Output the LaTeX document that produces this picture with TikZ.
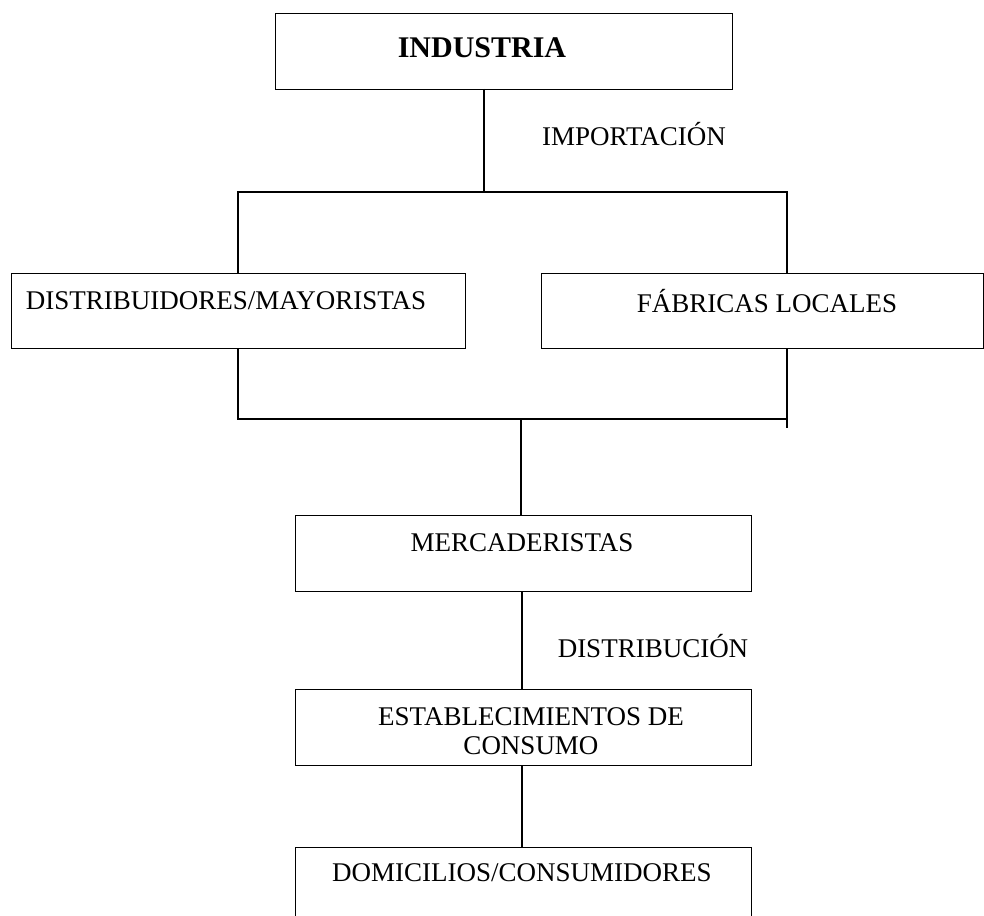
\documentclass[tikz,border=0pt]{standalone}
\usepackage{fontspec}
\setmainfont{Liberation Serif}
\begin{document}
\begin{tikzpicture}[x=1pt,y=-1pt,
  box/.style={draw=black, line width=1.4pt, inner sep=0pt, anchor=north west},
  lbl/.style={font=\fontsize{27}{29}\selectfont, inner sep=0pt, align=center},
  conn/.style={draw=black, line width=1.4pt}]
\useasboundingbox (0,0) rectangle (984,915);
\clip (0,0) rectangle (984,915);
% boxes
\node[box, minimum width=457pt, minimum height=76pt] (ind) at (275,13) {};
\node[box, minimum width=454pt, minimum height=75pt] (dist) at (11,273) {};
\node[box, minimum width=442pt, minimum height=75pt] (fab) at (541,273) {};
\node[box, minimum width=456pt, minimum height=76pt] (merc) at (295,515) {};
\node[box, minimum width=456pt, minimum height=76pt] (est) at (295,689) {};
\node[box, minimum width=456pt, minimum height=90pt] (dom) at (295,847) {};
% labels
\node[lbl, font=\fontsize{30}{34}\selectfont\bfseries] (tind) at (482,48) {INDUSTRIA};
\node[lbl] (tdist) at (226,301) {DISTRIBUIDORES/MAYORISTAS};
\node[lbl] (tfab) at (767,301) {FÁBRICAS LOCALES};
\node[lbl] (tmerc) at (522,543) {MERCADERISTAS};
\node[lbl] (test) at (531,731) {ESTABLECIMIENTOS DE\\CONSUMO};
\node[lbl] (tdom) at (522,873) {DOMICILIOS/CONSUMIDORES};
\node[lbl] (timp) at (634,134) {IMPORTACIÓN};
\node[lbl] (tdis) at (653,646) {DISTRIBUCIÓN};
% junction coordinates
\coordinate (indout) at (484,89);
\coordinate (top) at (484,192);
\coordinate (bot) at (521,419);
\coordinate (rtail) at (787,428);
% connectors
\draw[conn] (indout) -- (top);
\draw[conn] (dist.north -| 238,0) -- (238,192) -- (787,192) -- (fab.north -| 787,0);
\draw[conn] (dist.south -| 238,0) -- (238,419) -- (787,419);
\draw[conn] (fab.south -| 787,0) -- (rtail);
\draw[conn] (bot) -- (merc.north -| bot);
\draw[conn] (merc.south -| 522,0) -- (est.north -| 522,0);
\draw[conn] (est.south -| 522,0) -- (dom.north -| 522,0);
\end{tikzpicture}
\end{document}
